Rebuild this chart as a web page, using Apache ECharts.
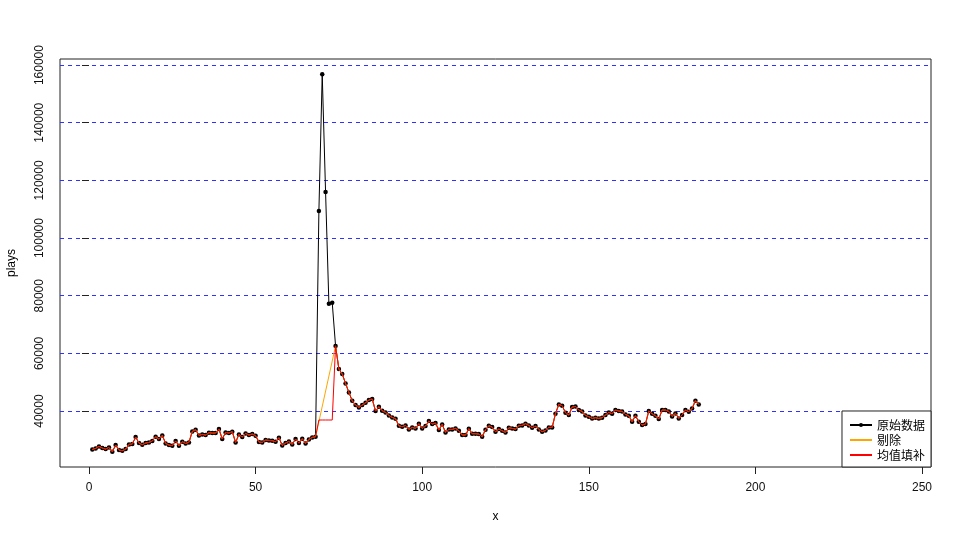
<!DOCTYPE html>
<html>
<head>
<meta charset="utf-8">
<script src="https://cdn.jsdelivr.net/npm/echarts@6/dist/echarts.min.js"></script>
<style>html,body{margin:0;padding:0;background:#fff;}#c{width:963px;height:541px;}</style>
</head>
<body>
<div id="c"></div>
<script>
// ---- data ----
var seriesNames = ['原始数据', '剔除', '均值填补'];
var original = [
  26700, 27050, 27750, 27170, 26820, 27400, 25900, 28200, 26480, 26240,
  26820, 28440, 28560, 30980, 28900, 28330, 28900, 29130, 29600, 31100,
  30290, 31560, 28790, 28210, 27980, 29600, 27980, 29370, 28790, 29130,
  32950, 33530, 31560, 31910, 31680, 32490, 32370, 32370, 33760, 30290,
  32600, 32370, 32830, 29130, 31910, 30980, 32260, 31680, 32020, 31450,
  29250, 29130, 29940, 29830, 29710, 29370, 30750, 28090, 28900, 29480,
  28440, 30290, 28900, 30410, 28790, 30180, 30870, 31100, 109400, 156800,
  116000, 77200, 77600, 62600, 54570, 52830, 49600, 46470, 43580, 42080,
  41270, 42080, 42890, 43820, 44160, 40000, 41500, 40120, 39540, 38500,
  37800, 37340, 34910, 34570, 35030, 33640, 34340, 33990, 35610, 33990,
  34800, 36530, 35490, 35840, 33410, 35380, 32600, 33640, 33640, 33990,
  33180, 31700, 31680, 33870, 32140, 32140, 32020, 31100, 33530, 34910,
  34450, 32830, 33760, 33180, 32600, 34220, 33990, 33760, 34910, 35030,
  35610, 35030, 34220, 34800, 33640, 32830, 33300, 34340, 34340, 39080,
  42310, 41850, 39420, 38610, 41390, 41620, 40350, 39890, 38500, 38040,
  37460, 37690, 37460, 37690, 38610, 39540, 39080, 40350, 40000, 39890,
  38840, 38380, 36300, 38380, 36300, 35150, 35490, 40000, 39080, 38380,
  37230, 40350, 40350, 39890, 38150, 39190, 37460, 38610, 40350, 39770,
  40930, 43580, 42310
];
var removedIdx = [69, 70, 71, 72, 73];   // x positions of the removed outliers
var fillValue = 36900;                    // mean value used for filling
var xTicks = [0, 50, 100, 150, 200, 250];
var yTicks = [40000, 60000, 80000, 100000, 120000, 140000, 160000];  // also the dashed reference lines

// ---- build series data ----
var origPairs = original.map(function (v, i) { return [i + 1, v]; });
var removedPairs = origPairs.filter(function (p) { return removedIdx.indexOf(p[0]) < 0; });
var filledPairs = origPairs.map(function (p) {
  return removedIdx.indexOf(p[0]) < 0 ? p : [p[0], fillValue];
});

var FONT = '"Liberation Sans", Arial, "Noto Sans CJK SC", sans-serif';
var chart = echarts.init(document.getElementById('c'), null, {renderer: 'canvas'});
chart.setOption({
  animation: false,
  backgroundColor: '#ffffff',
  textStyle: {fontFamily: FONT},
  grid: {left: 60, right: 32, top: 59, bottom: 74, show: true, borderColor: '#222', borderWidth: 1,
         backgroundColor: 'transparent', containLabel: false, outerBoundsMode: 'none'},
  xAxis: {
    type: 'value', min: -8.7, max: 252.7,
    name: 'x', nameLocation: 'middle', nameGap: 44,
    nameTextStyle: {color: '#000', fontSize: 12, fontFamily: FONT},
    axisLine: {show: false},
    axisTick: {show: true, inside: false, length: 7, customValues: xTicks, lineStyle: {color: '#222'}},
    axisLabel: {show: true, customValues: xTicks, margin: 15, color: '#111', fontSize: 12, fontFamily: FONT},
    splitLine: {show: false}
  },
  yAxis: {
    type: 'value', min: 20600, max: 162100,
    name: 'plays', nameLocation: 'middle', nameGap: 42, nameRotate: 90,
    nameTextStyle: {color: '#000', fontSize: 12, fontFamily: FONT},
    axisLine: {show: false},
    axisTick: {show: true, inside: false, length: 7, customValues: yTicks, lineStyle: {color: '#222'}},
    axisLabel: {show: true, customValues: yTicks, rotate: 90, margin: 14, color: '#111', fontSize: 12, fontFamily: FONT,
                formatter: function (v) { return String(v); }},
    splitLine: {show: true, lineStyle: {color: '#3030ff', type: [4, 4], width: 1}}
  },
  legend: {
    orient: 'vertical', right: 32, bottom: 74,
    backgroundColor: '#fff', borderColor: '#222', borderWidth: 1, borderRadius: 0,
    padding: [8, 6, 6, 7], itemGap: 3, itemWidth: 22, itemHeight: 5,
    textStyle: {color: '#000', fontSize: 12, fontFamily: '"Noto Sans CJK SC", sans-serif'},
    data: [
      {name: seriesNames[0]},
      {name: seriesNames[1], itemStyle: {opacity: 0}},
      {name: seriesNames[2], itemStyle: {opacity: 0}}
    ]
  },
  series: [
    {
      name: seriesNames[0], type: 'line', data: origPairs, z: 2,
      symbol: 'circle', symbolSize: 4.5, showSymbol: true,
      itemStyle: {color: '#000'}, lineStyle: {color: '#000', width: 1}
    },
    {
      name: seriesNames[1], type: 'line', data: removedPairs, z: 3,
      symbol: 'none', showSymbol: false,
      itemStyle: {color: '#FFA500'}, lineStyle: {color: '#FFA500', width: 1}
    },
    {
      name: seriesNames[2], type: 'line', data: filledPairs, z: 4,
      symbol: 'none', showSymbol: false,
      itemStyle: {color: '#FF0000'}, lineStyle: {color: '#FF0000', width: 1}
    }
  ]
});
</script>
</body>
</html>
